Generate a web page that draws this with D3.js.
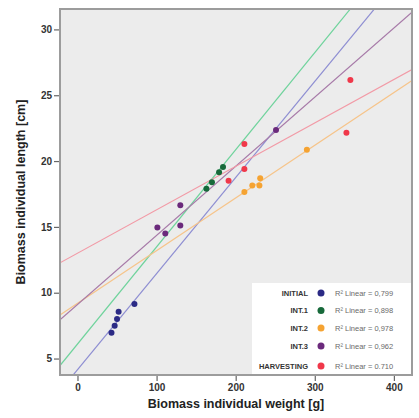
<!DOCTYPE html>
<html><head><meta charset="utf-8">
<script src="https://cdn.jsdelivr.net/npm/d3@7/dist/d3.min.js"></script>
<style>
html,body{margin:0;padding:0;background:#fff;}
svg{display:block;font-family:"Liberation Sans",Arial,sans-serif;}
</style></head>
<body>
<svg id="chart" width="419" height="418"></svg>
<script>
// ---- data ----
const groups = ["INITIAL", "INT.1", "INT.2", "INT.3", "HARVESTING"];
const r2Labels = ["R² Linear = 0,799", "R² Linear = 0,898", "R² Linear = 0,978", "R² Linear = 0,962", "R² Linear = 0.710"];
const pointColors = ["#2b2a85", "#17693a", "#f5a332", "#6b2a7c", "#f0384a"];
const lineColors = ["#8e8ed2", "#6fd39c", "#f6c48a", "#a77aa8", "#f29aa6"];

const weightInitial = [43, 47, 50, 52, 72];
const lengthInitial = [6.95, 7.5, 8.0, 8.55, 9.15];
const weightInt1 = [163, 170, 179, 184];
const lengthInt1 = [17.9, 18.4, 19.15, 19.55];
const weightInt2 = [211, 221, 230, 231, 290];
const lengthInt2 = [17.65, 18.15, 18.15, 18.7, 20.85];
const weightInt3 = [101, 111, 130, 130, 251];
const lengthInt3 = [14.95, 14.5, 15.1, 16.65, 22.35];
const weightHarv = [191, 211, 211, 340, 345];
const lengthHarv = [18.5, 19.4, 21.3, 22.15, 26.15];

// linear fit lines (intercept, slope)
const fitIntercept = [4.15, 6.1, 9.2, 9.1, 13.0];
const fitSlope = [0.073, 0.0738, 0.040, 0.0525, 0.033];

const xTicks = [0, 100, 200, 300, 400];
const yTicks = [5, 10, 15, 20, 25, 30];

const seriesW = [weightInitial, weightInt1, weightInt2, weightInt3, weightHarv];
const seriesL = [lengthInitial, lengthInt1, lengthInt2, lengthInt3, lengthHarv];

// ---- chart ----
const svg = d3.select("#chart");
const L = 60, R = 412, T = 9, B = 375;
const x = d3.scaleLinear().domain([-22.1, 422.9]).range([L, R]);
const y = d3.scaleLinear().domain([3.75, 31.55]).range([B, T]);

svg.append("defs").append("clipPath").attr("id", "clip")
  .append("rect").attr("x", L).attr("y", T).attr("width", R - L).attr("height", B - T);

svg.append("rect").attr("x", L).attr("y", T).attr("width", R - L).attr("height", B - T)
  .attr("fill", "#ececec");

const plot = svg.append("g").attr("clip-path", "url(#clip)");

// fit lines
groups.forEach((g, i) => {
  const [x0, x1] = x.domain();
  plot.append("line")
    .attr("x1", x(x0)).attr("y1", y(fitIntercept[i] + fitSlope[i] * x0))
    .attr("x2", x(x1)).attr("y2", y(fitIntercept[i] + fitSlope[i] * x1))
    .attr("stroke", lineColors[i]).attr("stroke-width", 1.2);
});

// points
groups.forEach((g, i) => {
  plot.selectAll(null).data(d3.range(seriesW[i].length)).enter().append("circle")
    .attr("cx", j => x(seriesW[i][j])).attr("cy", j => y(seriesL[i][j]))
    .attr("r", 3).attr("fill", pointColors[i]);
});

// legend
const lg = svg.append("g");
const legTop = 283, legLeft = 252;
lg.append("rect").attr("x", legLeft).attr("y", legTop).attr("width", R - legLeft).attr("height", B - legTop)
  .attr("fill", "#fff");
const rowY = [293, 310.5, 328, 346, 366];
groups.forEach((g, i) => {
  lg.append("text").attr("x", 308).attr("y", rowY[i]).attr("dy", "0.35em")
    .attr("text-anchor", "end").attr("font-size", 7.5).attr("font-weight", "bold")
    .attr("fill", "#333").text(g);
  lg.append("circle").attr("cx", 321).attr("cy", rowY[i]).attr("r", 3.5).attr("fill", pointColors[i]);
  lg.append("text").attr("x", 335).attr("y", rowY[i]).attr("dy", "0.35em")
    .attr("font-size", 7.5).attr("fill", "#6a6a6a").text(r2Labels[i]);
});

// frame
svg.append("rect").attr("x", L).attr("y", T).attr("width", R - L).attr("height", B - T)
  .attr("fill", "none").attr("stroke", "#9c9c9c").attr("stroke-width", 2);

// axes
const xa = svg.append("g").attr("transform", `translate(0,${B + 1})`)
  .call(d3.axisBottom(x).tickValues(xTicks).tickSize(5).tickPadding(3).tickFormat(d3.format("d")));
const ya = svg.append("g").attr("transform", `translate(${L - 1},0)`)
  .call(d3.axisLeft(y).tickValues(yTicks).tickSize(5).tickPadding(2).tickFormat(d3.format("d")));
[xa, ya].forEach(a => {
  a.select(".domain").remove();
  a.selectAll(".tick line").attr("stroke", "#666").attr("stroke-width", 1.2);
  a.selectAll(".tick text").attr("font-size", 10).attr("font-weight", "bold").attr("fill", "#333")
    .attr("font-family", "'Liberation Sans',Arial,sans-serif");
});

// axis titles
svg.append("text").attr("x", (L + R) / 2).attr("y", 408).attr("text-anchor", "middle")
  .attr("font-size", 12.5).attr("font-weight", "bold").attr("fill", "#222")
  .text("Biomass individual weight [g]");
svg.append("text").attr("transform", `translate(25,${(T + B) / 2}) rotate(-90)`)
  .attr("text-anchor", "middle").attr("font-size", 12.5).attr("font-weight", "bold").attr("fill", "#222")
  .text("Biomass individual length [cm]");
</script>
</body></html>
